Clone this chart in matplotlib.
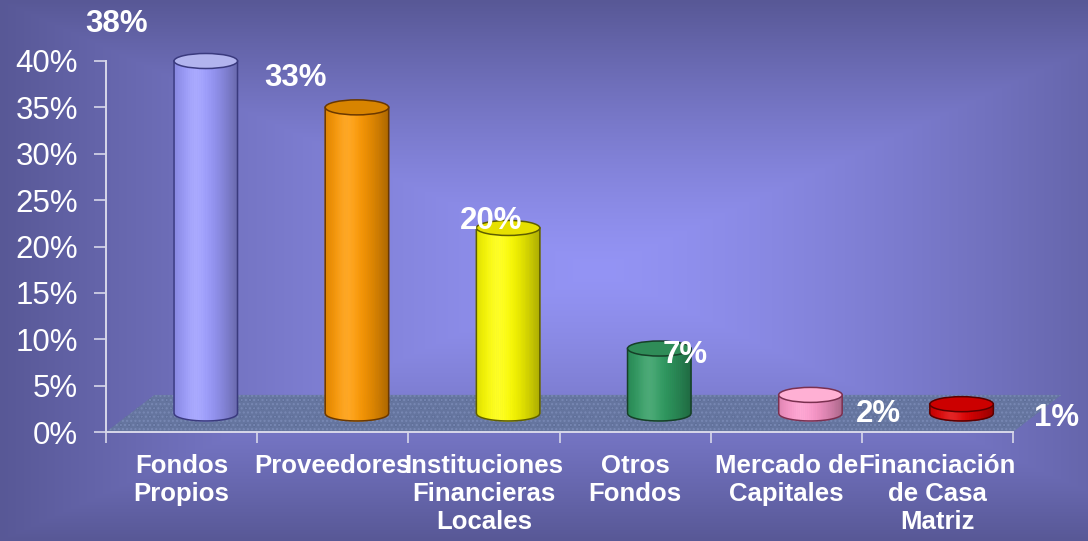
import numpy as np
import matplotlib
matplotlib.use("Agg")
import matplotlib.pyplot as plt
from matplotlib.patches import Polygon, Ellipse
from matplotlib.collections import PolyCollection
from matplotlib.colors import to_rgb

plt.rcParams['font.family'] = ['Liberation Sans', 'DejaVu Sans']
plt.rcParams['hatch.linewidth'] = 1.0

# data
categories = ["Fondos\nPropios", "Proveedores", "Instituciones\nFinancieras\nLocales",
              "Otros\nFondos", "Mercado de\nCapitales", "Financiación\nde Casa\nMatriz"]
shares = [38, 33, 20, 7, 2, 1]
y_ticks = [0, 5, 10, 15, 20, 25, 30, 35, 40]

# styling
bar_colors = ["#9c9cff", "#ff9900", "#ffff00", "#2e9c60", "#ff99cc", "#e00000"]
top_colors = ["#b2b4ee", "#d88400", "#e6e000", "#2f8c58", "#ffb0d4", "#cc0000"]
edge_colors = ["#3a3a7e", "#6a3800", "#5e5e00", "#163f28", "#7a3050", "#5a0000"]
# where each value label sits relative to the cylinder top (pixels, right / up)
label_offsets = [(-89, 29), (-61, 21), (-17, -1), (26, -14), (68, -27), (95, -22)]

W, H = 1088, 541
fig = plt.figure(figsize=(W / 100, H / 100), dpi=100)

# background gradient (rectangular, light centre)
bg = fig.add_axes([0, 0, 1, 1], zorder=-1)
xx, yy = np.meshgrid(np.linspace(0, 1, W), np.linspace(0, 1, H))
t = np.maximum(np.abs(xx - 0.55) / 0.55, np.abs(yy - 0.5) / 0.5)
t = np.clip(t, 0, 1) ** 1.3
c_mid = np.array([148, 148, 245]) / 255
c_edge = np.array([88, 88, 150]) / 255
img = c_mid[None, None, :] + (c_edge - c_mid)[None, None, :] * t[..., None]
bg.imshow(img, extent=[0, 1, 0, 1], aspect='auto')
bg.axis('off')

ax = fig.add_axes([106 / W, 109 / H, 907 / W, 371 / H])
ax.set_facecolor('none')
ax.set_xlim(-0.5, len(categories) - 0.5)
ax.set_ylim(0, 40)

axis_col = '#d8d8ea'
for s in ['top', 'right']:
    ax.spines[s].set_visible(False)
for s in ['left', 'bottom']:
    ax.spines[s].set_color(axis_col)
    ax.spines[s].set_linewidth(1.4)
    ax.spines[s].set_zorder(5)

ax.set_yticks(y_ticks)
ax.set_yticklabels([f"{v}%" for v in y_ticks], fontsize=22.5, color='white')
ax.tick_params(axis='y', length=9, width=1.2, color=axis_col, pad=11)

n = len(categories)
ax.set_xticks(np.arange(n + 1) - 0.5)
ax.set_xticklabels([])
ax.tick_params(axis='x', which='major', length=8, width=1.2, color=axis_col)
ax.set_xticks(np.arange(n), minor=True)
ax.set_xticklabels(categories, minor=True, fontsize=18.5, fontweight='bold', color='white')
ax.tick_params(axis='x', which='minor', length=0, pad=16)

# floor with depth
ddx, ddy = 0.32, 4.0
floor_pts = [(-0.5, 0), (n - 0.5, 0), (n - 0.5 + ddx, ddy), (-0.5 + ddx, ddy)]
ax.add_patch(Polygon(floor_pts, closed=True, facecolor='#65759f', edgecolor='none',
                     zorder=1, clip_on=False))
ax.add_patch(Polygon(floor_pts, closed=True, facecolor='none', edgecolor='#7888b4',
                     linewidth=0, hatch='....', zorder=1.1, clip_on=False))
ax.add_patch(Polygon(floor_pts, closed=True, facecolor='none', edgecolor='#56668f',
                     linewidth=0, hatch='..', zorder=1.05, clip_on=False))

# cylinders
rx = 0.21
ry = 0.81
base = ddy / 2
nstrip = 48
for i, (v, col, tcol, ecol) in enumerate(zip(shares, bar_colors, top_colors, edge_colors)):
    cx = i + ddx / 2
    top = base + v
    rgb = np.array(to_rgb(col))
    edges = np.linspace(-1, 1, nstrip + 1)
    polys, fcs = [], []
    for a, b in zip(edges[:-1], edges[1:]):
        us = np.linspace(a, b, 4)
        xs = cx + rx * us
        ys_bot = base - ry * np.sqrt(np.clip(1 - us ** 2, 0, 1))
        poly = list(zip(xs, ys_bot)) + [(xs[-1], top), (xs[0], top)]
        polys.append(poly)
        m = (a + b) / 2
        s = 0.68 + 0.32 * np.cos(np.clip((m + 0.25) / 1.25, -1, 1) * np.pi / 2)
        hl = 0.14 * np.exp(-((m + 0.3) / 0.35) ** 2)
        c = rgb * s
        c = c + (1 - c) * hl
        fcs.append(np.clip(c, 0, 1))
    pc = PolyCollection(polys, facecolors=fcs, edgecolors=fcs, linewidths=0.6,
                        zorder=3, clip_on=False)
    ax.add_collection(pc)
    # outline of body
    us = np.linspace(-1, 1, 80)
    arc_y = base - ry * np.sqrt(1 - us ** 2)
    ox = np.concatenate([[cx - rx], cx + rx * us, [cx + rx]])
    oy = np.concatenate([[top], arc_y, [top]])
    ax.plot(ox, oy, color=ecol, linewidth=1.1, zorder=3.5, clip_on=False)
    ax.add_patch(Ellipse((cx, top), 2 * rx, 2 * ry, facecolor=tcol, edgecolor=ecol,
                         linewidth=1.1, zorder=4, clip_on=False))
    dx, dy = label_offsets[i]
    ax.annotate(f"{v}%", xy=(cx, top), xytext=(dx, dy), textcoords='offset pixels',
                ha='center', va='baseline', fontsize=22.5, fontweight='bold',
                color='white', zorder=6, annotation_clip=False)

fig.savefig('out.png', dpi=100)
